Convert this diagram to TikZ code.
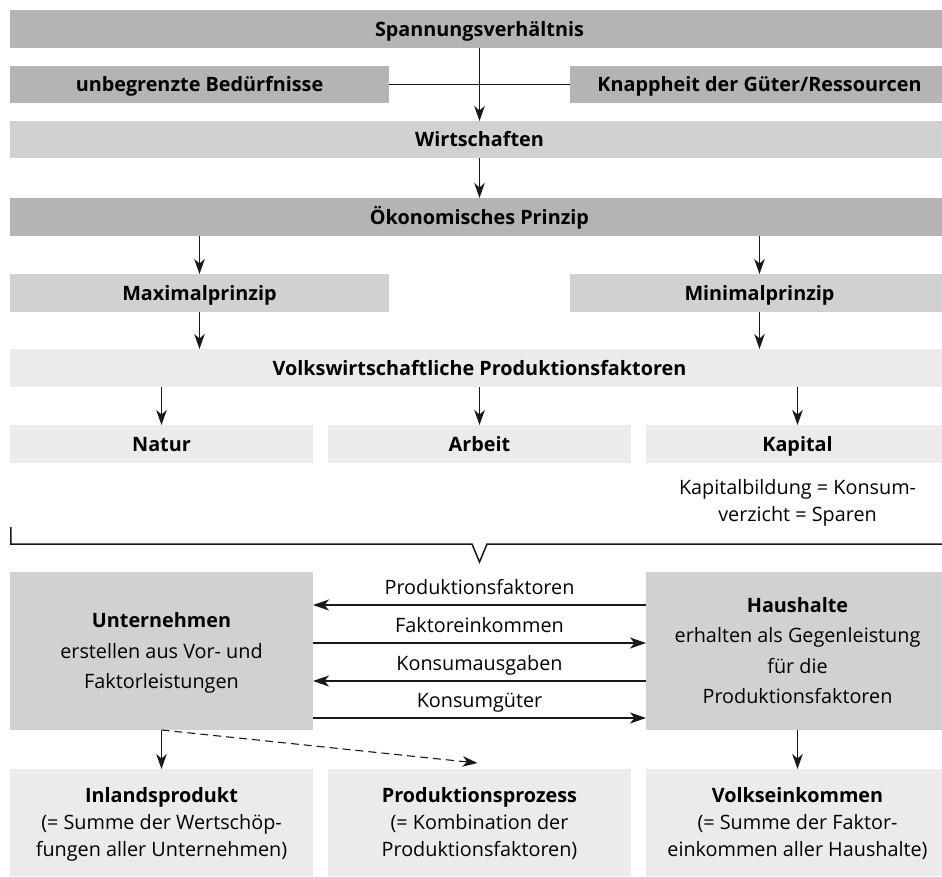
\documentclass[tikz,border=0pt]{standalone}
\usepackage{fontspec}
\setmainfont{Open Sans}
\usetikzlibrary{arrows.meta}
\definecolor{cDark}{RGB}{180,180,180}
\definecolor{cMid}{RGB}{208,209,209}
\definecolor{cLight}{RGB}{235,235,235}
\definecolor{cLine}{RGB}{25,25,25}
\newcommand\sst{\rule[-6pt]{0pt}{26pt}}
\begin{document}
\begin{tikzpicture}[x=1pt,y=-1pt,
  every node/.style={inner sep=0pt, outer sep=0pt},
  txt/.style={align=center, font=\fontsize{19.8}{27}\selectfont},
  bx/.style={txt, font=\fontsize{19.8}{27}\selectfont\bfseries},
  wide/.style={minimum width=939pt},
  half/.style={minimum width=379pt},
  third/.style={minimum width=303pt},
  row/.style={minimum height=38pt},
  dark/.style={bx, row, fill=cDark},
  mid/.style={bx, row, fill=cMid},
  light/.style={bx, row, fill=cLight},
  arr/.style={draw=cLine, line width=1.1pt, -{Stealth[length=15pt,width=10.5pt,inset=4.5pt]}},
  harr/.style={draw=cLine, line width=1.7pt, -{Stealth[length=16pt,width=11pt,inset=4.5pt]}},
  lab/.style={txt, midway, yshift=18pt}
]
\clip (0,0) rectangle (942,876);
\fill[white] (0,0) rectangle (942,876);

% top rows
\node[dark, wide] (sp) at (479.5,29) {\sst Spannungsverhältnis};
\node[dark, half, minimum height=37pt] (ub) at (199.5,84.5) {\sst unbegrenzte Bedürfnisse};
\node[dark, half, minimum height=37pt] (kn) at (759.5,84.5) {\sst Knappheit der Güter/Ressourcen};
\node[mid, wide, minimum height=37pt] (wi) at (479.5,139.5) {\sst Wirtschaften};
\node[dark, wide] (ok) at (479.5,217) {\sst Ökonomisches Prinzip};
\node[mid, half] (max) at (199.5,293) {\sst Maximalprinzip};
\node[mid, half] (min) at (759.5,293) {\sst Minimalprinzip};
\node[light, wide] (vw) at (479.5,368) {\sst Volkswirtschaftliche Produktionsfaktoren};
\node[light, third] (na) at (161.5,444) {\sst Natur};
\node[light, third] (ar) at (479.5,444) {\sst Arbeit};
\node[light, third] (ka) at (797.5,444) {\sst Kapital};
\node[txt] (kb) at (797.5,500.5) {\sst Kapitalbildung = Konsum-\\\sst verzicht = Sparen};

% connectors top
\draw[cLine, line width=1.3pt] (ub) -- (kn);
\draw[arr] (sp) -- (wi);
\draw[arr] (wi) -- (ok);
\draw[arr] (ok.south -| max) -- (max);
\draw[arr] (ok.south -| min) -- (min);
\draw[arr] (max) -- (max |- vw.north);
\draw[arr] (min) -- (min |- vw.north);
\draw[arr] (vw.south -| na) -- (na);
\draw[arr] (vw) -- (ar);
\draw[arr] (vw.south -| ka) -- (ka);

% brace
\coordinate (bl) at (10.8,527);
\coordinate (br) at (948.2,527);
\coordinate (bt) at (479.5,562);
\draw[cLine, line width=1.5pt, line join=miter]
  (bl) -- (bl |- 0,544) -- ([xshift=-7.5pt] bt |- 0,544) -- (bt)
  -- ([xshift=7.5pt] bt |- 0,544) -- (br |- 0,544) -- (br);

% circular flow
\node[bx, third, minimum height=158pt, fill=cMid, font=\fontsize{19.8}{30.5}\selectfont] (un) at (161.5,651)
  {\sst\textbf{Unternehmen}\\\sst\mdseries erstellen aus Vor- und\\\sst\mdseries Faktorleistungen};
\node[bx, third, minimum height=158pt, fill=cMid, font=\fontsize{19.8}{30.5}\selectfont] (hh) at (797.5,651)
  {\sst\textbf{Haushalte}\\\sst\mdseries erhalten als Gegenleistung\\\sst\mdseries für die\\\sst\mdseries Produktionsfaktoren};

\draw[harr] ([yshift=-33pt]hh.north west) -- node[lab]{\sst Produktionsfaktoren} ([yshift=-33pt]un.north east);
\draw[harr] ([yshift=-71pt]un.north east) -- node[lab]{\sst Faktoreinkommen} ([yshift=-71pt]hh.north west);
\draw[harr] ([yshift=-109pt]hh.north west) -- node[lab]{\sst Konsumausgaben} ([yshift=-109pt]un.north east);
\draw[harr] ([yshift=-146pt]un.north east) -- node[lab]{\sst Konsumgüter} ([yshift=-146pt]hh.north west);

% bottom row
\node[light, third, minimum height=107pt] (ip) at (161.5,822.5)
  {\sst Inlandsprodukt\\\sst\mdseries (= Summe der Wertschöp-\\\sst\mdseries fungen aller Unternehmen)};
\node[light, third, minimum height=107pt] (pp) at (479.5,822.5)
  {\sst Produktionsprozess\\\sst\mdseries (= Kombination der\\\sst\mdseries Produktionsfaktoren)};
\node[light, third, minimum height=107pt] (ve) at (797.5,822.5)
  {\sst Volkseinkommen\\\sst\mdseries (= Summe der Faktor-\\\sst\mdseries einkommen aller Haushalte)};

\draw[arr] (un) -- (ip);
\draw[arr] (hh) -- (ve);
\draw[arr, dash pattern=on 8pt off 5pt] (un.south) -- ([xshift=-2pt,yshift=6pt]pp.north);
\end{tikzpicture}
\end{document}
